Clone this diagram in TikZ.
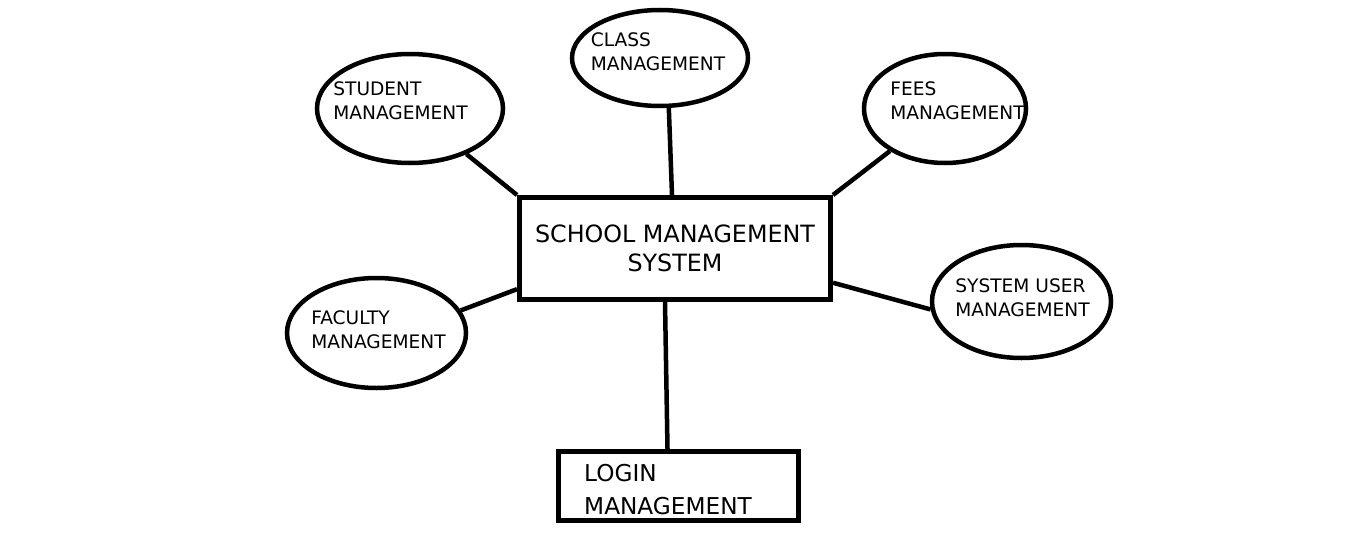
\documentclass[tikz,border=0pt]{standalone}
\usepackage{fontspec}
\setmainfont{DejaVu Sans}
\usetikzlibrary{shapes.geometric, calc}

\begin{document}
\begin{tikzpicture}[x=1pt, y=-1pt,
    module/.style={
        ellipse, draw=black, line width=4.5pt, fill=white, inner sep=0pt
    },
    modtext/.style={
        align=left, inner sep=0pt,
        font={\fontsize{18.6}{24}\selectfont}
    },
    core/.style={
        draw=black, line width=5pt, fill=white,
        minimum width=311pt, minimum height=102pt, align=center,
        font={\fontsize{23.8}{29}\selectfont}
    },
    loginbox/.style={
        draw=black, line width=5pt, fill=white,
        minimum width=240pt, minimum height=69pt
    },
    logintext/.style={
        align=left, inner sep=0pt,
        font={\fontsize{23.2}{33}\selectfont}
    },
    link/.style={-, line width=4.5pt, black},
]
    \useasboundingbox (0,0) rectangle (1346,554);

    % --- central system ---
    \node[core] (main) at (675,248.5) {SCHOOL MANAGEMENT\\SYSTEM};

    % --- modules around it ---
    \node[module, minimum width=186pt, minimum height=109pt] (student) at (410,108.5) {};
    \node[module, minimum width=176pt, minimum height=96pt]  (class)   at (660,58) {};
    \node[module, minimum width=162pt, minimum height=109pt] (fees)    at (945,108.5) {};
    \node[module, minimum width=179pt, minimum height=113pt] (sysuser) at (1021.5,301.5) {};
    \node[module, minimum width=179pt, minimum height=110pt] (faculty) at (376.5,333) {};
    \node[loginbox] (login) at (678.5,486) {};

    \node[modtext] (studenttxt) at ($(student)+(-9.5,-7.5)$) {STUDENT\\MANAGEMENT};
    \node[modtext] (classtxt)   at ($(class)+(-2,-6)$)      {CLASS\\MANAGEMENT};
    \node[modtext] (feestxt)    at ($(fees)+(12.5,-7.5)$)   {FEES\\MANAGEMENT};
    \node[modtext] (sysusertxt) at ($(sysuser)+(1,-3.5)$)   {SYSTEM USER\\MANAGEMENT};
    \node[modtext] (facultytxt) at ($(faculty)+(2,-3)$)     {FACULTY\\MANAGEMENT};
    \node[logintext] (logintxt) at ($(login)+(-10.5,3.5)$)  {LOGIN\\MANAGEMENT};

    % --- links ---
    \draw[link] (student) -- (main.north west);
    \draw[link] (class.-80) -- ($(main.north)+(-3,0)$);
    \draw[link] (fees) -- (main.north east);
    \draw[link] (sysuser.185) -- ($(main.south east)!0.18!(main.north east)$);
    \draw[link] (faculty.15) -- ($(main.south west)!0.12!(main.north west)$);
    \draw[link] ($(main.south)+(-10,0)$) -- ($(login.north)+(-11,0)$);

\end{tikzpicture}
\end{document}
